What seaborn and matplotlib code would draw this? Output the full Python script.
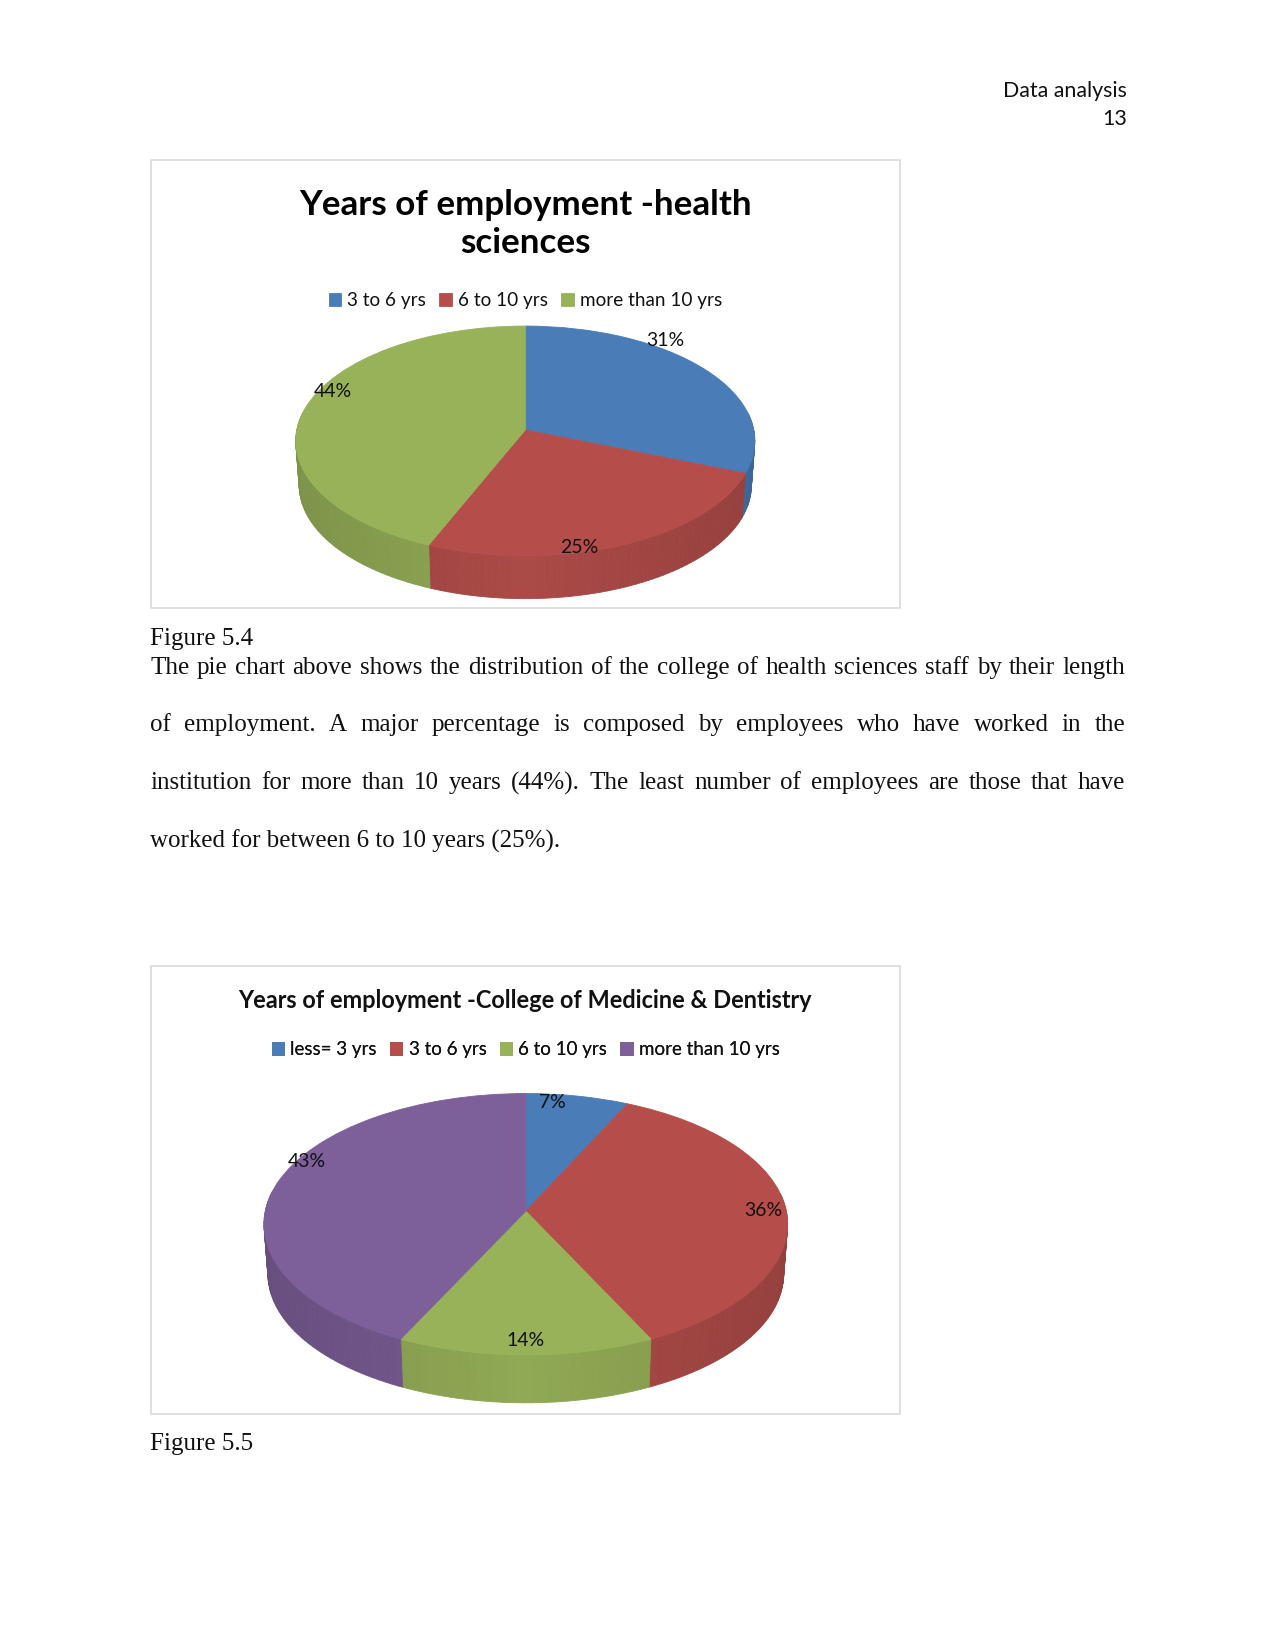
import numpy as np
import matplotlib
matplotlib.use('Agg')
import matplotlib.pyplot as plt
import matplotlib.transforms as mtransforms
from matplotlib.patches import Polygon, Rectangle
import seaborn as sns

# chart data (the printed labels are rounded)
health_labels = ['3 to 6 yrs', '6 to 10 yrs', 'more than 10 yrs']
health_values = [31, 25.3, 43.7]
medicine_labels = ['less= 3 yrs', '3 to 6 yrs', '6 to 10 yrs', 'more than 10 yrs']
medicine_values = [7, 35.8, 14.4, 42.8]

health_colors = ['#4A7CB8', '#B54E4B', '#98B259']
medicine_colors = ['#4A7CB8', '#B54E4B', '#98B259', '#7D5F9A']

body_lines = [
    'The pie chart above shows the distribution of the college of health sciences staff by their length',
    'of employment. A major percentage is composed by employees who have worked in the',
    'institution for more than 10 years (44%). The least number of employees are those that have',
]
body_last = 'worked for between 6 to 10 years (25%).'

# page units, the figure is saved at 1275x1650
PAGE_W, PAGE_H = 1210, 1566
SERIF = 'Liberation Serif'
SANS = 'Lato'

sns.set_theme(style='white')
plt.rcParams['font.family'] = [SANS, 'DejaVu Sans']

fig = plt.figure(figsize=(8.5, 11), dpi=150)
ax = fig.add_axes([0, 0, 1, 1])


class Tilt(mtransforms.Transform):
    # unit circle -> page, seen from above with some perspective
    input_dims = 2
    output_dims = 2

    def __init__(self, cx, cy, a, b, k):
        super().__init__()
        self.cx, self.cy, self.a, self.b, self.k = cx, cy, a, b, k

    def transform_non_affine(self, xy):
        xy = np.asarray(xy, dtype=float)
        w = 1 + self.k * xy[:, 1]
        return np.column_stack([self.cx + self.a * xy[:, 0] / w,
                                self.cy - self.b * xy[:, 1] / w])


def shade(color, f):
    return tuple(np.clip(np.array(matplotlib.colors.to_rgb(color)) * f, 0, 1))


def draw_pie(values, colors, labels, cx, cy, a, b, k, depth, label_xy, legend_xy, legend_size):
    wedges, _ = ax.pie(values, colors=colors, startangle=90, counterclock=False,
                       wedgeprops={'linewidth': 0.4, 'zorder': 3})
    top = Tilt(cx, cy, a, b, k)
    low = Tilt(cx, cy + depth, a * 0.985, b * 0.985, k)

    for w, color in zip(wedges, colors):
        w.set_edgecolor(color)
        w.set_transform(top + ax.transData)

        # side wall, only the part turned to the viewer
        t1, t2 = min(w.theta1, w.theta2), max(w.theta1, w.theta2)
        angles = np.radians(np.arange(t1, t2 + 1.5, 1.5).clip(t1, t2))
        for t0, t3 in zip(angles[:-1], angles[1:]):
            if np.sin((t0 + t3) / 2) > 0.15:
                continue
            pts = np.array([[np.cos(t0), np.sin(t0)], [np.cos(t3), np.sin(t3)]])
            poly = np.vstack([top.transform(pts), low.transform(pts)[::-1]])
            f = 0.95 - 0.13 * abs(np.cos((t0 + t3) / 2))
            c = shade(color, f)
            ax.add_patch(Polygon(poly, closed=True, facecolor=c, edgecolor=c,
                                 linewidth=0.4, zorder=2))

    for v, (x, y) in zip(values, label_xy):
        ax.text(x, y, f'{v:.0f}%', fontsize=9.3, color='#111111', ha='center', va='center', zorder=5)

    leg = ax.legend(wedges, labels, ncol=len(labels), loc='center',
                    bbox_to_anchor=legend_xy, bbox_transform=ax.transData,
                    frameon=False, fontsize=legend_size, handlelength=0.66, handleheight=0.66,
                    handletextpad=0.33, columnspacing=0.7, borderpad=0)
    for txt in leg.get_texts():
        txt.set_color('#111111')
    ax.add_artist(leg)


def frame(x0, y0, x1, y1):
    ax.add_patch(Rectangle((x0, y0), x1 - x0, y1 - y0, facecolor='white',
                           edgecolor='#D9D9D9', linewidth=0.8, zorder=1))


def justified(line, x0, x1, y, size):
    # word by word, the renderer gives the natural widths
    renderer = fig.canvas.get_renderer()
    scale = PAGE_W / fig.bbox.width
    words = line.split(' ')
    items = [ax.text(x0, y, w, fontsize=size, family=SERIF, color='#111111', va='baseline') for w in words]
    widths = [t.get_window_extent(renderer).width * scale for t in items]
    gap = (x1 - x0 - sum(widths)) / (len(words) - 1)
    x = x0
    for t, wd in zip(items, widths):
        t.set_x(x)
        x += wd + gap


frame(143.2, 151.7, 854.4, 577.5)
frame(143.2, 916.4, 854.4, 1342)

draw_pie(health_values, health_colors, health_labels,
         498.5, 408, 216.8, 108, 0.096, 42.5,
         [(631, 323), (550, 520), (316, 372)], (498.5, 285), 9.05)
draw_pie(medicine_values, medicine_colors, medicine_labels,
         499, 1149.5, 247.2, 122.8, 0.100, 47.5,
         [(524, 1046), (724, 1149), (499, 1272), (291, 1102)], (499, 996), 9.0)

ax.text(498.5, 212.5, 'Years of employment -health\nsciences', fontsize=16.8, fontweight='bold',
        color='black', ha='center', va='center', linespacing=1.21, zorder=5)
ax.text(498, 950, 'Years of employment -College of Medicine & Dentistry', fontsize=11.3,
        fontweight='bold', color='#111111', ha='center', va='center', zorder=5)

ax.text(1069.5, 92, 'Data analysis', fontsize=10.25, color='#111111', ha='right', va='baseline')
ax.text(1069.5, 119, '13', fontsize=10.25, color='#111111', ha='right', va='baseline')

ax.text(142.5, 612, 'Figure 5.4', fontsize=12, family=SERIF, color='#111111', va='baseline')
for line, y in zip(body_lines, [640, 694, 749]):
    justified(line, 142.5, 1068, y, 12)
ax.text(142.5, 804, body_last, fontsize=12, family=SERIF, color='#111111', va='baseline')
ax.text(142.5, 1376, 'Figure 5.5', fontsize=12, family=SERIF, color='#111111', va='baseline')

# pie() resets the limits and aspect, so the page is set up last
ax.set_aspect('auto')
ax.set_xlim(0, PAGE_W)
ax.set_ylim(PAGE_H, 0)
ax.set_axis_off()

fig.savefig('out.png', dpi=150)
plt.close(fig)
